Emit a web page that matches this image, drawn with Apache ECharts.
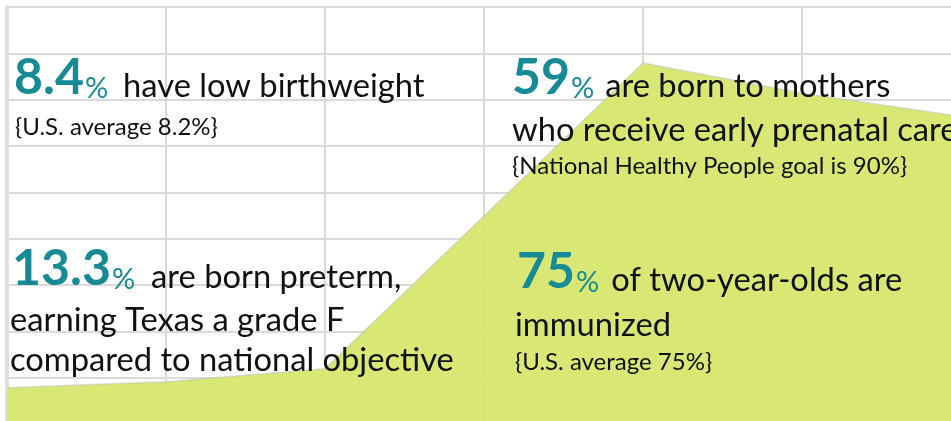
<!DOCTYPE html>
<html>
<head>
<meta charset="utf-8">
<script src="https://cdn.jsdelivr.net/npm/echarts@6/dist/echarts.min.js"></script>
<style>
html, body { margin: 0; padding: 0; background: #fff; }
#chart { width: 951px; height: 421px; }
</style>
</head>
<body>
<div id="chart"></div>
<script>
// area shape, one value per grid column
var categories = ['c1', 'c2', 'c3', 'c4', 'c5', 'c6', 'c7'];
var areaValues = [0.78, 0.91, 1.19, 4.49, 7.79, 7.14, 6.64];

// text blocks: stat number, first line rest, following lines
var statNumbers = ['8.4', '59', '13.3', '75'];
var statLines = [
    ['have low birthweight', '{U.S. average 8.2%}'],
    ['are born to mothers', 'who receive early prenatal care', '{National Healthy People goal is 90%}'],
    ['are born preterm,', 'earning Texas a grade F', 'compared to national objective'],
    ['of two-year-olds are', 'immunized', '{U.S. average 75%}']
];

var TEAL = '#178b95';
var FONT = 'Lato';
var BIG = 50, PCT = 29, MAIN = 32.7, SUB = 24;

var chart = echarts.init(document.getElementById('chart'));

function baseY(baseline, size) {
    return baseline + 0.113 * size;
}

function headLine(x, baseline, num, rest, gap) {
    return {
        type: 'text', x: x, y: baseY(baseline, BIG), z: 100,
        style: {
            text: '{n|' + num + '}{p|%}{t|' + rest + '}',
            verticalAlign: 'bottom',
            align: 'left',
            rich: {
                n: { fontFamily: FONT, fontSize: BIG, fontWeight: 'bold', fill: TEAL, lineHeight: BIG, verticalAlign: 'bottom', padding: [0, 1, 0, 0] },
                p: { fontFamily: FONT, fontSize: PCT, fill: TEAL, lineHeight: PCT, verticalAlign: 'bottom', padding: [0, gap, 0, 0] },
                t: { fontFamily: FONT, fontSize: MAIN, fill: '#111', lineHeight: MAIN, verticalAlign: 'bottom' }
            }
        }
    };
}

function plainLine(x, baseline, text, size) {
    return {
        type: 'text', x: x, y: baseY(baseline, size), z: 100,
        style: {
            text: text,
            fontFamily: FONT,
            fontSize: size,
            fill: '#111',
            lineHeight: size,
            verticalAlign: 'bottom',
            align: 'left'
        }
    };
}

var graphics = [
    headLine(14, 97, statNumbers[0], statLines[0][0], 15),
    plainLine(15, 137, statLines[0][1], SUB),

    headLine(512, 97, statNumbers[1], statLines[1][0], 11),
    plainLine(512, 143, statLines[1][1], MAIN),
    plainLine(512, 176, statLines[1][2], SUB),

    headLine(12, 288, statNumbers[2], statLines[2][0], 16),
    plainLine(10, 333, statLines[2][1], MAIN),
    plainLine(10, 373, statLines[2][2], MAIN),

    headLine(517, 291, statNumbers[3], statLines[3][0], 12),
    plainLine(515, 338, statLines[3][1], MAIN),
    plainLine(515, 372, statLines[3][2], SUB)
];

var option = {
    animation: false,
    grid: {
        left: 7,
        top: 7,
        width: 954,
        height: 417,
        containLabel: false,
        outerBoundsMode: 'none'
    },
    xAxis: {
        type: 'category',
        position: 'top',
        boundaryGap: false,
        data: categories,
        axisLine: { show: true, lineStyle: { color: '#e0e0e0', width: 3 } },
        axisTick: { show: false },
        axisLabel: { show: false },
        splitLine: { show: true, interval: 0, lineStyle: { color: '#dadada', width: 2 } }
    },
    yAxis: {
        type: 'value',
        min: 0,
        max: 9,
        interval: 1,
        axisLine: { show: true, lineStyle: { color: '#e0e0e0', width: 4 } },
        axisTick: { show: false },
        axisLabel: { show: false },
        splitLine: { show: true, lineStyle: { color: '#dadada', width: 2 } }
    },
    series: [{
        type: 'line',
        data: areaValues,
        symbol: 'none',
        lineStyle: { color: 'rgba(190,190,190,0.5)', width: 1.5 },
        areaStyle: { color: '#d7e76c', opacity: 0.94 }
    }],
    graphic: graphics
};

chart.setOption(option);
</script>
</body>
</html>
